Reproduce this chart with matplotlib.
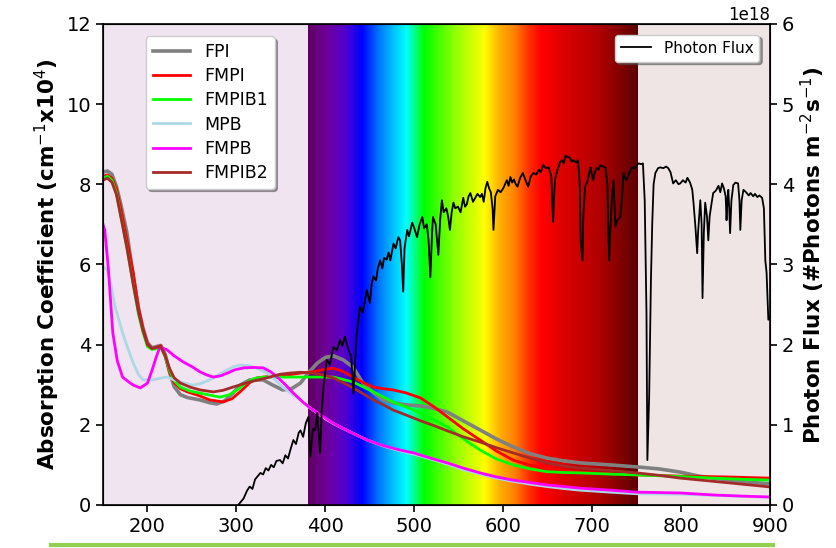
import matplotlib
matplotlib.use("Agg")
import matplotlib.pyplot as plt
import numpy as np
from matplotlib.colors import LinearSegmentedColormap
from matplotlib.lines import Line2D

plt.rcParams['font.family'] = ['DejaVu Sans']

# ---------------- data ----------------
fpi_wl = [150, 155, 160, 165, 170, 177, 184, 190, 195, 200, 205, 210, 215, 220, 225, 230, 237, 245, 259, 270,
          278, 287, 296, 305, 315, 330, 340, 352, 362, 372, 381, 391, 400, 409, 420, 431, 442, 454, 465, 476,
          490, 507, 520, 537, 555, 574, 592, 611, 630, 649, 668, 686, 720, 750, 775, 799, 820, 836, 855, 874, 900]
fpi_val = [8.30, 8.33, 8.25, 7.95, 7.50, 6.78, 5.70, 4.90, 4.40, 4.05, 3.92, 3.95, 3.98, 3.75, 3.30, 2.95, 2.75, 2.68, 2.62, 2.55,
           2.52, 2.60, 2.79, 3.00, 3.12, 3.12, 3.00, 2.87, 2.90, 3.04, 3.30, 3.54, 3.68, 3.72, 3.62, 3.44, 3.05, 2.80, 2.62, 2.55,
           2.50, 2.47, 2.42, 2.32, 2.10, 1.87, 1.65, 1.45, 1.28, 1.17, 1.10, 1.05, 1.00, 0.95, 0.90, 0.82, 0.72, 0.67, 0.62, 0.57, 0.53]

fmpi_wl = [150, 155, 160, 165, 170, 177, 184, 190, 195, 200, 205, 210, 215, 220, 225, 230, 237, 245, 259, 270,
           285, 295, 304, 315, 323, 335, 346, 360, 372, 386, 398, 409, 420, 431, 442, 454, 465, 476, 490, 507,
           522, 537, 555, 574, 592, 611, 630, 649, 668, 686, 720, 750, 799, 850, 900]
fmpi_val = [8.20, 8.23, 8.15, 7.90, 7.40, 6.60, 5.80, 4.90, 4.40, 4.02, 3.90, 3.93, 3.97, 3.70, 3.30, 3.05, 2.90, 2.82, 2.72, 2.62,
            2.57, 2.65, 2.82, 3.05, 3.17, 3.20, 3.19, 3.25, 3.29, 3.32, 3.38, 3.41, 3.33, 3.19, 3.06, 2.94, 2.90, 2.87, 2.80, 2.67,
            2.45, 2.20, 1.90, 1.62, 1.35, 1.12, 0.99, 0.92, 0.86, 0.82, 0.78, 0.75, 0.72, 0.70, 0.67]

fmpib1_wl = [150, 155, 160, 165, 170, 177, 184, 190, 195, 200, 205, 210, 215, 220, 225, 230, 237, 248, 259, 270,
             282, 292, 301, 310, 319, 330, 346, 372, 390, 409, 431, 454, 476, 499, 520, 537, 555, 574, 592, 611,
             630, 649, 668, 686, 720, 750, 799, 836, 870, 900]
fmpib1_val = [8.15, 8.20, 8.10, 7.80, 7.20, 6.40, 5.50, 4.75, 4.30, 3.95, 3.88, 3.90, 3.92, 3.70, 3.35, 3.10, 2.94, 2.84, 2.79, 2.74,
              2.69, 2.75, 2.87, 3.03, 3.15, 3.19, 3.19, 3.19, 3.19, 3.19, 3.07, 2.82, 2.57, 2.37, 2.15, 1.95, 1.65, 1.37, 1.15, 1.00,
              0.90, 0.83, 0.81, 0.80, 0.77, 0.75, 0.71, 0.67, 0.64, 0.62]

mpb_wl = [150, 155, 159, 163, 168, 172, 178, 184, 190, 195, 206, 214, 222, 230, 237, 251, 260, 270, 280, 290,
          297, 304, 312, 319, 327, 335, 343, 352, 362, 372, 381, 391, 400, 409, 428, 447, 465, 484, 499, 518,
          537, 555, 574, 592, 611, 630, 649, 668, 686, 720, 750, 799, 850, 900]
mpb_val = [5.95, 5.85, 5.50, 5.00, 4.60, 4.30, 3.90, 3.54, 3.25, 3.12, 3.12, 3.16, 3.19, 3.12, 3.07, 2.99, 3.03, 3.12, 3.25, 3.37,
           3.45, 3.49, 3.48, 3.44, 3.37, 3.29, 3.13, 2.94, 2.78, 2.62, 2.45, 2.29, 2.15, 2.03, 1.82, 1.62, 1.47, 1.35, 1.27, 1.15,
           1.02, 0.88, 0.77, 0.67, 0.59, 0.52, 0.46, 0.41, 0.37, 0.32, 0.28, 0.27, 0.23, 0.19]

fmpb_wl = [150, 152, 156, 161, 166, 172, 180, 184, 192, 200, 205, 210, 214, 222, 230, 240, 250, 259, 267, 274,
           282, 290, 298, 308, 320, 330, 338, 346, 355, 364, 375, 386, 398, 409, 428, 447, 465, 484, 499, 518,
           537, 555, 574, 592, 611, 630, 649, 668, 686, 720, 750, 799, 836, 870, 900]
fmpb_val = [7.00, 6.86, 5.90, 4.30, 3.60, 3.19, 3.05, 2.99, 2.92, 3.04, 3.35, 3.70, 3.94, 3.87, 3.72, 3.57, 3.45, 3.32, 3.24, 3.19,
            3.22, 3.29, 3.37, 3.42, 3.43, 3.42, 3.33, 3.19, 3.00, 2.79, 2.56, 2.37, 2.20, 2.04, 1.82, 1.62, 1.48, 1.37, 1.30, 1.17,
            1.05, 0.92, 0.80, 0.70, 0.62, 0.56, 0.50, 0.46, 0.42, 0.37, 0.32, 0.30, 0.25, 0.22, 0.20]

fmpib2_wl = [150, 155, 160, 165, 170, 177, 184, 190, 195, 200, 205, 210, 215, 220, 225, 230, 237, 248, 259, 274,
             285, 296, 315, 334, 349, 360, 372, 386, 398, 409, 420, 431, 442, 454, 465, 476, 490, 507, 522, 537,
             555, 574, 592, 611, 630, 649, 668, 686, 720, 750, 775, 799, 850, 900]
fmpib2_val = [8.10, 8.15, 8.05, 7.75, 7.20, 6.40, 5.50, 4.80, 4.35, 4.00, 3.90, 3.93, 3.95, 3.72, 3.40, 3.17, 3.04, 2.94, 2.87, 2.82,
              2.86, 2.94, 3.07, 3.17, 3.26, 3.29, 3.31, 3.29, 3.24, 3.17, 3.05, 2.92, 2.78, 2.62, 2.50, 2.37, 2.25, 2.10, 1.98, 1.85,
              1.70, 1.57, 1.43, 1.30, 1.17, 1.05, 0.97, 0.92, 0.86, 0.80, 0.74, 0.67, 0.56, 0.45]

# photon flux (x 1e18 photons m^-2 s^-1)
flux_wl = [302, 308, 312, 315, 318, 321, 324, 327, 330, 333, 336, 339, 342, 345, 349, 352, 355, 358, 361, 364,
           367, 370, 372, 375, 378, 381, 383, 386, 388.5, 391, 394, 396, 398, 401.6, 405, 409, 413, 416.6, 419, 422,
           426, 429, 431.6, 435, 439, 442, 446.6, 450, 452, 454, 457, 459, 461.6, 464, 466, 469, 471, 473, 476.6, 479,
           482, 484, 486, 487.5, 489, 492, 494, 497.6, 500, 503, 506, 509, 511, 514, 516, 518, 520, 521, 524, 527,
           529, 531, 533, 536, 538, 540, 542, 544, 546, 549, 552, 555, 557, 559, 561, 563, 566, 568, 571, 574,
           576, 578, 580, 582, 584, 586, 588, 589, 591, 594, 597, 600, 602, 604, 606, 608, 610, 612, 614, 616,
           619, 622, 625, 628, 631, 634, 637, 640, 642, 645, 648, 651, 654, 656, 658, 661, 664, 666, 668, 670,
           672, 675, 677, 679, 682, 684, 686, 687, 689, 690, 692, 695, 698, 701, 703, 705, 707, 709, 712, 715,
           717, 719, 721, 722, 724, 726, 728, 731.5, 733, 735, 738, 740, 742, 745, 748, 752, 755, 757, 759, 761,
           762, 764, 766, 767.5, 769, 771, 774, 776.5, 780, 783, 785.5, 788, 791, 794, 797, 799, 802, 805, 807, 810,
           812.5, 814, 816, 818, 819, 821.5, 823, 824, 825.5, 827, 829, 830.5, 832, 834, 836, 839, 842, 844, 846, 848,
           850, 851, 852, 853, 854, 855, 856.5, 858.6, 861, 864, 865.5, 866.5, 868, 870, 873, 876, 878, 881, 883, 885.6,
           888, 891, 893, 894.6, 896, 898, 900]
flux_val = [0.00, 0.08, 0.18, 0.23, 0.20, 0.32, 0.36, 0.40, 0.38, 0.46, 0.43, 0.50, 0.47, 0.55, 0.56, 0.52, 0.62, 0.58, 0.70, 0.81,
            0.76, 0.90, 0.93, 0.85, 1.02, 1.10, 0.60, 0.95, 0.93, 1.15, 0.65, 1.20, 1.48, 1.81, 1.75, 1.97, 1.93, 2.06, 1.98, 2.10,
            1.93, 1.85, 1.39, 2.10, 2.47, 2.40, 2.68, 2.52, 2.75, 2.85, 2.80, 2.95, 3.05, 2.95, 3.08, 3.06, 3.15, 3.05, 3.26, 3.20,
            3.34, 3.30, 3.00, 2.66, 3.20, 3.43, 3.35, 3.52, 3.45, 3.34, 3.50, 3.59, 3.45, 3.50, 3.30, 2.84, 3.40, 3.59, 3.50, 3.12,
            3.55, 3.80, 3.65, 3.70, 3.60, 3.43, 3.65, 3.77, 3.70, 3.72, 3.65, 3.83, 3.72, 3.75, 3.85, 3.89, 3.78, 3.82, 3.88, 3.84,
            3.88, 3.78, 3.95, 4.03, 3.95, 3.90, 3.70, 3.43, 3.85, 3.93, 3.90, 3.95, 4.00, 4.05, 3.98, 4.09, 4.02, 4.06, 4.00, 3.97,
            4.08, 4.14, 4.05, 3.97, 4.10, 4.14, 4.12, 4.18, 4.15, 4.24, 4.20, 4.21, 4.10, 3.53, 4.05, 4.18, 4.28, 4.30, 4.26, 4.36,
            4.34, 4.33, 4.28, 4.30, 4.27, 4.30, 4.00, 3.30, 3.05, 3.60, 3.97, 4.05, 4.21, 4.05, 4.15, 4.20, 4.18, 4.24, 4.22, 4.21,
            4.00, 3.05, 3.60, 3.80, 4.05, 3.47, 3.55, 3.59, 3.75, 4.14, 4.05, 4.09, 4.15, 4.21, 4.20, 4.26, 4.25, 4.26, 3.80, 2.39,
            0.56, 1.35, 2.80, 3.52, 4.00, 4.14, 4.20, 4.21, 4.20, 4.22, 4.20, 4.15, 4.01, 4.05, 4.00, 4.01, 4.05, 4.02, 4.08, 4.02,
            3.93, 3.75, 3.47, 3.14, 3.40, 3.80, 3.50, 2.58, 3.40, 3.77, 3.60, 3.30, 3.60, 3.75, 3.89, 3.92, 3.98, 3.90, 4.01, 3.95,
            3.85, 3.55, 3.80, 3.93, 3.70, 3.39, 3.80, 3.99, 4.02, 4.01, 3.80, 3.43, 3.80, 3.93, 3.90, 3.86, 3.89, 3.85, 3.88, 3.84,
            3.86, 3.83, 3.70, 3.05, 2.90, 2.31, 2.35]

series_names = ['FPI', 'FMPI', 'FMPIB1', 'MPB', 'FMPB', 'FMPIB2']
series_colors = ['#808080', '#ff0000', '#00ff00', '#add8e6', '#ff00ff', '#a52a2a']
series_wl = [fpi_wl, fmpi_wl, fmpib1_wl, mpb_wl, fmpb_wl, fmpib2_wl]
series_val = [fpi_val, fmpi_val, fmpib1_val, mpb_val, fmpb_val, fmpib2_val]

# visible spectrum colour stops (nm, colour)
spectrum_stops = [(380, '#610061'), (400, '#6f009a'), (420, '#5600ce'), (440, '#0000ff'), (460, '#007aff'),
                  (475, '#00c0ff'), (490, '#00ffff'), (510, '#00ff00'), (545, '#92ff00'), (578, '#ffff00'),
                  (595, '#ffb000'), (612, '#ff8000'), (628, '#ff3000'), (642, '#ff0000'), (664, '#e00000'),
                  (686, '#c80000'), (709, '#ad0000'), (740, '#700000'), (750, '#5e0000')]

# ---------------- plot ----------------
fig = plt.figure(figsize=(8.36, 5.48), dpi=100)
ax = fig.add_axes([0.1232, 0.0785, 0.798, 0.878])

ax.axvspan(150, 380, color='#efe4ef', zorder=0, lw=0)
ax.axvspan(750, 900, color='#efe5e5', zorder=0, lw=0)

s0, s1 = spectrum_stops[0][0], spectrum_stops[-1][0]
cmap = LinearSegmentedColormap.from_list(
    'vis', [((w - s0) / (s1 - s0), c) for w, c in spectrum_stops])
grad = np.linspace(0, 1, 512).reshape(1, -1)
ax.imshow(grad, cmap=cmap, extent=(s0, s1, 0, 12), aspect='auto', zorder=0.5,
          interpolation='bilinear')

for name, col, wl, val in zip(series_names, series_colors, series_wl, series_val):
    lw = 2.6 if name == 'FPI' else 2.0
    ax.plot(wl, val, color=col, lw=lw, label=name, zorder=2)

ax.set_xlim(150, 900)
ax.set_ylim(0, 12)
ax.set_xticks(range(200, 901, 100))
ax.set_yticks(range(0, 13, 2))
ax.tick_params(labelsize=14, width=1.2, length=5)
for sp in ax.spines.values():
    sp.set_linewidth(1.2)
ax.set_ylabel('Absorption Coefficient (cm$^{-1}$x10$^{4}$)', fontsize=15.5, fontweight='bold',
              labelpad=3)

leg = ax.legend(loc='upper left', bbox_to_anchor=(0.064, 0.974), fontsize=12.5, shadow=True,
                framealpha=1, handlelength=2.15, labelspacing=0.35, borderaxespad=0)

ax2 = ax.twinx()
ax2.plot(flux_wl, np.array(flux_val) * 1e18, color='black', lw=1.3, label='Photon Flux')
ax2.set_ylim(0, 6e18)
ax2.set_yticks(np.arange(0, 7) * 1e18)
ax2.tick_params(labelsize=14, width=1.2, length=5)
ax2.yaxis.get_offset_text().set_fontsize(12)
ax2.set_ylabel('Photon Flux (#Photons m$^{-2}$s$^{-1}$)', fontsize=15.5, fontweight='bold',
               labelpad=3)
ax2.yaxis.label.set_y(0.52)
ax2.legend(loc='upper right', fontsize=11, shadow=True, framealpha=1, borderaxespad=0.7)

fig.add_artist(Line2D([0.061, 0.925], [0.005, 0.005], color='#92d050', lw=3,
                      transform=fig.transFigure))

fig.savefig('out.png', dpi=100)
